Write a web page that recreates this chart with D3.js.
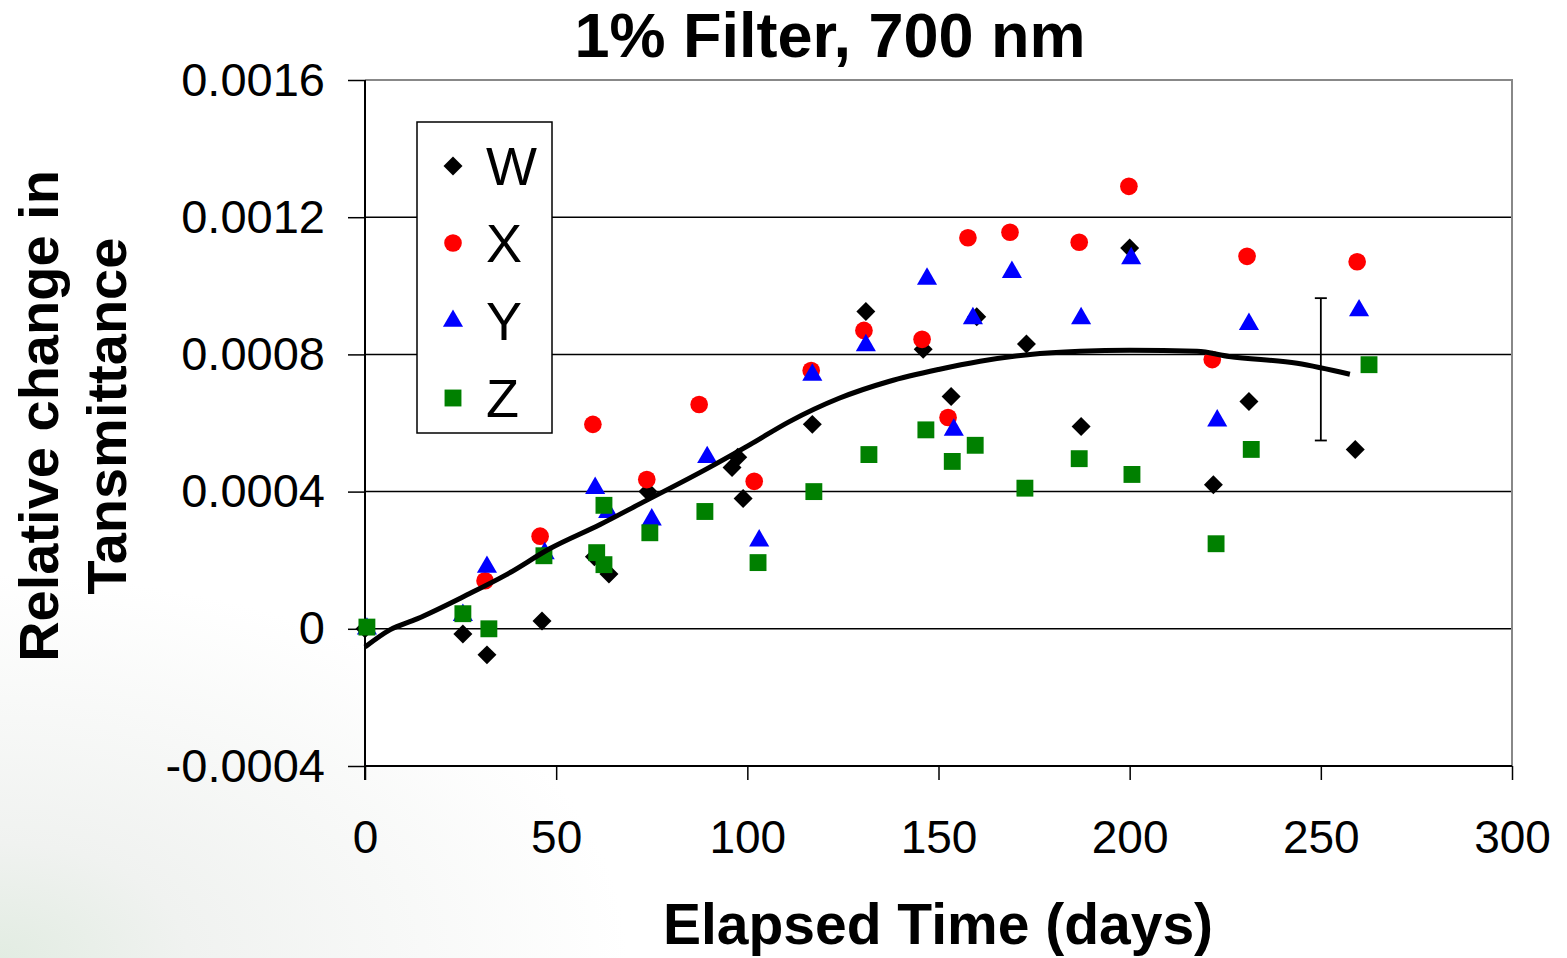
<!DOCTYPE html>
<html>
<head>
<meta charset="utf-8">
<script src="https://cdn.jsdelivr.net/npm/d3@7"></script>
<style>
  html, body { margin: 0; padding: 0; background: #fff; }
  svg { display: block; font-family: "Liberation Sans", Arial, sans-serif; }
</style>
</head>
<body>
<svg id="chart" width="1567" height="958"></svg>
<script>
// ---- data ----
var xTicks = [0, 50, 100, 150, 200, 250, 300];
var yTicks = [-0.0004, 0, 0.0004, 0.0008, 0.0012, 0.0016];
var yTickLabels = ["-0.0004", "0", "0.0004", "0.0008", "0.0012", "0.0016"];

var wDays = [0, 25.6, 31.9, 46.3, 60, 63.8, 74, 96, 97.5, 98.9, 117, 131, 146, 153.3, 160, 173, 187.3, 200, 221.9, 231.2, 259];
var wVals = [0, -0.000015, -0.000076, 0.000023, 0.00021, 0.00016, 0.0004, 0.00047, 0.0005, 0.00038, 0.000596, 0.000925, 0.000815, 0.000677, 0.00091, 0.00083, 0.00059, 0.00111, 0.00042, 0.000663, 0.000523];

var xDays = [31.4, 45.8, 59.6, 73.7, 87.4, 101.8, 116.7, 130.5, 145.7, 152.5, 157.7, 168.7, 186.8, 199.8, 221.6, 230.7, 259.5];
var xVals = [0.00014, 0.00027, 0.000596, 0.000435, 0.000654, 0.00043, 0.000753, 0.00087, 0.000844, 0.000616, 0.00114, 0.001156, 0.001127, 0.00129, 0.000785, 0.001086, 0.00107];

var yDays = [0.5, 25.6, 31.9, 47, 60.2, 63.6, 75, 89.5, 103.1, 117, 131, 147, 154, 159, 169.2, 187.3, 200.4, 222.9, 231.2, 260];
var yVals = [0, 0.00004, 0.00018, 0.00022, 0.00041, 0.00034, 0.000318, 0.0005, 0.000257, 0.00074, 0.000826, 0.00102, 0.00058, 0.000905, 0.00104, 0.000905, 0.00108, 0.000607, 0.000888, 0.000928];

var zDays = [0.5, 25.6, 32.4, 46.8, 60.6, 62.5, 62.5, 74.5, 88.9, 102.8, 117.4, 131.8, 146.7, 153.6, 159.6, 172.6, 186.8, 200.6, 222.6, 231.8, 262.6];
var zVals = [0.000005, 0.000044, 0, 0.000213, 0.000222, 0.00036, 0.000187, 0.00028, 0.000342, 0.000193, 0.0004, 0.000508, 0.00058, 0.000488, 0.000535, 0.00041, 0.000496, 0.00045, 0.000248, 0.000523, 0.00077];

// trend line
var trendDays = [0, 6.5, 13.6, 26.7, 37, 48.4, 61.5, 72, 89.5, 100.7, 111, 124, 137, 150, 160.9, 174, 187, 200, 217.6, 226, 243.8, 257.6];
var trendVals = [-0.000053, -0.000003, 0.000029, 0.000099, 0.000158, 0.000234, 0.000304, 0.000365, 0.000467, 0.000537, 0.000604, 0.000672, 0.000721, 0.000756, 0.00078, 0.0008, 0.000809, 0.000812, 0.000809, 0.000794, 0.000774, 0.000742];

var errDay = 250;
var errLow = 0.000549;
var errHigh = 0.000964;

var seriesNames = ["W", "X", "Y", "Z"];
var seriesColors = ["#000000", "#ff0000", "#0000ff", "#008000"];

// ---- layout ----
var svg = d3.select("#chart");
var pLeft = 365, pRight = 1512, pTop = 80, pBottom = 766;

var x = d3.scaleLinear().domain([0, 300]).range([pLeft, pRight]);
var y = d3.scaleLinear().domain([-0.0004, 0.0016]).range([pBottom, pTop]);

// faint background shading like the slide
var defs = svg.append("defs");
var grad = defs.append("radialGradient").attr("id", "bg")
  .attr("cx", "0%").attr("cy", "100%").attr("r", "40%");
grad.append("stop").attr("offset", "0%").attr("stop-color", "#e2ece2");
grad.append("stop").attr("offset", "30%").attr("stop-color", "#f0f2f0");
grad.append("stop").attr("offset", "100%").attr("stop-color", "#ffffff");
svg.append("rect").attr("width", 1567).attr("height", 958).attr("fill", "url(#bg)");

// plot area
svg.append("rect")
  .attr("x", pLeft).attr("y", pTop)
  .attr("width", pRight - pLeft).attr("height", pBottom - pTop)
  .attr("fill", "#fff");

// gridlines
svg.append("g").selectAll("line")
  .data(yTicks.filter(function(d) { return d > -0.0004 && d < 0.0016; }))
  .enter().append("line")
  .attr("x1", pLeft).attr("x2", pRight)
  .attr("y1", function(d) { return y(d); }).attr("y2", function(d) { return y(d); })
  .attr("stroke", "#000").attr("stroke-width", 1.5);

// grey border top and right
svg.append("path")
  .attr("d", "M" + pLeft + "," + pTop + "H" + pRight + "V" + pBottom)
  .attr("fill", "none").attr("stroke", "#888").attr("stroke-width", 2);

// y axis
var yAxis = d3.axisLeft(y).tickValues(yTicks).tickSize(17).tickPadding(23)
  .tickFormat(function(d, i) { return yTickLabels[i]; });
var gy = svg.append("g").attr("transform", "translate(" + pLeft + ",0)").call(yAxis);
gy.select(".domain").attr("stroke", "#000").attr("stroke-width", 2)
  .attr("d", "M0," + pTop + "V" + (pBottom + 14));
gy.selectAll(".tick line").attr("stroke", "#000").attr("stroke-width", 1.5);
gy.selectAll("text").attr("font-size", 47).attr("fill", "#000")
  .attr("font-family", "Liberation Sans, Arial, sans-serif");

// x axis
var xAxis = d3.axisBottom(x).tickValues(xTicks).tickSize(14).tickPadding(40);
var gx = svg.append("g").attr("transform", "translate(0," + pBottom + ")").call(xAxis);
gx.select(".domain").attr("stroke", "#000").attr("stroke-width", 2)
  .attr("d", "M" + pLeft + ",0H" + pRight);
gx.selectAll(".tick line").attr("stroke", "#000").attr("stroke-width", 1.5);
gx.selectAll("text").attr("font-size", 46).attr("fill", "#000")
  .attr("font-family", "Liberation Sans, Arial, sans-serif");

// markers
var shapes = [d3.symbolSquare, d3.symbolCircle, d3.symbolTriangle, d3.symbolSquare];
var sizes = [180, 245, 175, 285];
function rot(i) { return i == 0 ? " rotate(45)" : ""; }

var allDays = [wDays, xDays, yDays, zDays];
var allVals = [wVals, xVals, yVals, zVals];

allDays.forEach(function(days, s) {
  var pts = days.map(function(d, i) { return [d, allVals[s][i]]; });
  svg.append("g").selectAll("path")
    .data(pts)
    .enter().append("path")
    .attr("d", d3.symbol().type(shapes[s]).size(sizes[s])())
    .attr("transform", function(d) {
      return "translate(" + x(d[0]) + "," + y(d[1]) + ")" + rot(s);
    })
    .attr("fill", seriesColors[s]);
});

// trend line
var trend = trendDays.map(function(d, i) { return [d, trendVals[i]]; });
svg.append("path")
  .datum(trend)
  .attr("d", d3.line()
    .x(function(d) { return x(d[0]); })
    .y(function(d) { return y(d[1]); })
    .curve(d3.curveMonotoneX))
  .attr("fill", "none").attr("stroke", "#000").attr("stroke-width", 5);

// error bar
var eb = svg.append("g").attr("stroke", "#000").attr("stroke-width", 1.8);
eb.append("line").attr("x1", x(errDay)).attr("x2", x(errDay))
  .attr("y1", y(errHigh)).attr("y2", y(errLow));
[errHigh, errLow].forEach(function(v) {
  eb.append("line").attr("x1", x(errDay) - 6).attr("x2", x(errDay) + 6)
    .attr("y1", y(v)).attr("y2", y(v));
});

// legend
var legend = svg.append("g");
legend.append("rect").attr("x", 417).attr("y", 122).attr("width", 135).attr("height", 311)
  .attr("fill", "#fff").attr("stroke", "#000").attr("stroke-width", 1.5);
var legendY = [166, 243, 321, 398];
seriesNames.forEach(function(name, i) {
  legend.append("path")
    .attr("d", d3.symbol().type(shapes[i]).size(sizes[i])())
    .attr("transform", "translate(453," + legendY[i] + ")" + rot(i))
    .attr("fill", seriesColors[i]);
  legend.append("text")
    .attr("x", 486).attr("y", legendY[i] + 19)
    .attr("font-size", 54).attr("fill", "#000")
    .text(name);
});

// titles
svg.append("text")
  .attr("x", 830).attr("y", 57)
  .attr("text-anchor", "middle")
  .attr("font-size", 63).attr("font-weight", "bold")
  .text("1% Filter, 700 nm");

svg.append("text")
  .attr("x", 938).attr("y", 944)
  .attr("text-anchor", "middle")
  .attr("font-size", 57).attr("font-weight", "bold")
  .text("Elapsed Time (days)");

var yt = svg.append("text")
  .attr("transform", "translate(0,416) rotate(-90)")
  .attr("text-anchor", "middle")
  .attr("font-size", 56).attr("font-weight", "bold");
yt.append("tspan").attr("x", 0).attr("y", 58).text("Relative change in");
yt.append("tspan").attr("x", 0).attr("y", 126).text("Tansmittance");
</script>
</body>
</html>
